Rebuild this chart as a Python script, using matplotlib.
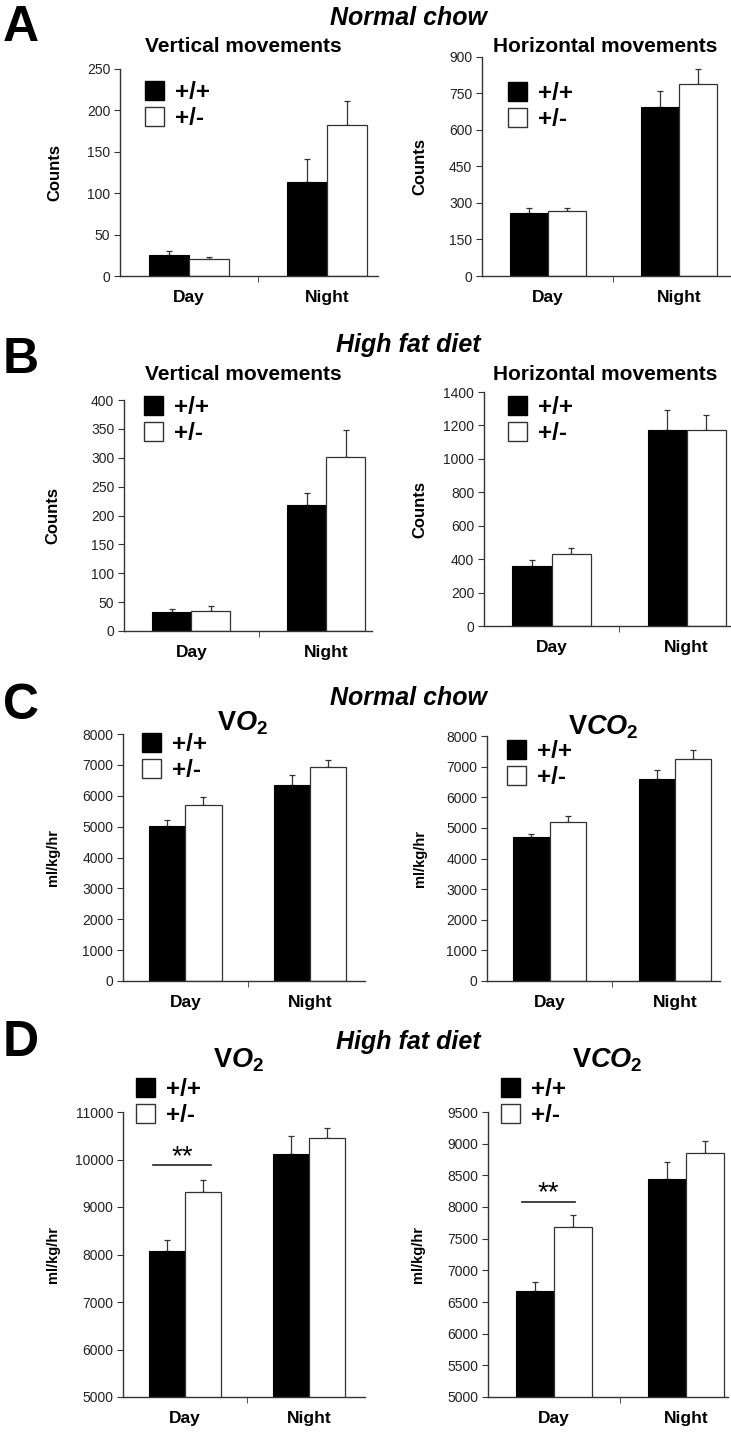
import matplotlib
matplotlib.use("Agg")
import matplotlib.pyplot as plt
from matplotlib.patches import Patch
import numpy as np

plt.rcParams['font.family'] = ['Liberation Sans', 'DejaVu Sans']
plt.rcParams['mathtext.fontset'] = 'custom'
plt.rcParams['mathtext.rm'] = 'Liberation Sans:bold'
plt.rcParams['mathtext.bf'] = 'Liberation Sans:bold'
plt.rcParams['mathtext.it'] = 'Liberation Sans:italic:bold'

periods = ["Day", "Night"]
genotypes = ["+/+", "+/-"]

# A: normal chow, activity
vert_chow_wt = [25, 114]
vert_chow_wt_err = [5, 27]
vert_chow_het = [21, 182]
vert_chow_het_err = [2, 29]
horiz_chow_wt = [257, 696]
horiz_chow_wt_err = [23, 66]
horiz_chow_het = [268, 788]
horiz_chow_het_err = [12, 62]

# B: high fat diet, activity
vert_hfd_wt = [33, 218]
vert_hfd_wt_err = [5, 21]
vert_hfd_het = [35, 302]
vert_hfd_het_err = [8, 46]
horiz_hfd_wt = [358, 1171]
horiz_hfd_wt_err = [36, 120]
horiz_hfd_het = [428, 1175]
horiz_hfd_het_err = [36, 90]

# C: normal chow, gas exchange
vo2_chow_wt = [5005, 6346]
vo2_chow_wt_err = [195, 313]
vo2_chow_het = [5686, 6919]
vo2_chow_het_err = [282, 249]
vco2_chow_wt = [4707, 6598]
vco2_chow_wt_err = [108, 304]
vco2_chow_het = [5196, 7250]
vco2_chow_het_err = [195, 283]

# D: high fat diet, gas exchange
vo2_hfd_wt = [8073, 10120]
vo2_hfd_wt_err = [225, 372]
vo2_hfd_het = [9325, 10450]
vo2_hfd_het_err = [253, 204]
vco2_hfd_wt = [6672, 8439]
vco2_hfd_wt_err = [148, 269]
vco2_hfd_het = [7679, 8850]
vco2_hfd_het_err = [190, 185]

W, H = 731, 1432
fig = plt.figure(figsize=(W / 100, H / 100), dpi=100)


def fx(px):
    return px / W


def fy(py):
    return 1 - py / H


def panel(box, xmax, ylim, ystep, wt, wt_err, het, het_err, ylabel, ylabel_x, legend_xy, sig=None):
    l, r, t, b = box
    ax = fig.add_axes([fx(l), fy(b), fx(r - l), (b - t) / H])
    x = np.arange(len(periods))
    w = 0.29
    ax.bar(x - w / 2, wt, w, color='black', edgecolor='black', linewidth=0.8, zorder=2)
    ax.bar(x + w / 2, het, w, color='white', edgecolor='#333333', linewidth=0.9, zorder=2)
    ax.errorbar(x - w / 2, wt, yerr=[np.zeros(len(wt)), wt_err], fmt='none',
                ecolor='#333333', elinewidth=0.9, capsize=2, capthick=0.9, zorder=1)
    ax.errorbar(x + w / 2, het, yerr=[np.zeros(len(het)), het_err], fmt='none',
                ecolor='#333333', elinewidth=0.9, capsize=2, capthick=0.9, zorder=1)
    ax.set_xlim(-0.5, xmax)
    ax.set_ylim(*ylim)
    ax.set_yticks(np.arange(ylim[0], ylim[1] + 1, ystep))
    ax.set_xticks(x)
    ax.set_xticklabels(periods, fontsize=12.5, fontweight='bold')
    ax.set_xticks([0.5], minor=True)
    ax.tick_params(axis='x', which='major', length=0, pad=10)
    ax.tick_params(axis='x', which='minor', length=4, color='#333333')
    ax.tick_params(axis='y', length=4, pad=3, labelsize=10, color='#333333', labelcolor='#222222')
    for s in ['top', 'right']:
        ax.spines[s].set_visible(False)
    for s in ['left', 'bottom']:
        ax.spines[s].set_color('#333333')
        ax.spines[s].set_linewidth(1)
    ax.set_ylabel(ylabel, fontsize=12 if ylabel == 'Counts' else 10.5, fontweight='bold')
    ax.yaxis.set_label_coords((ylabel_x - l) / (r - l), 0.5)
    handles = [Patch(facecolor='black', edgecolor='black'),
               Patch(facecolor='white', edgecolor='#333333')]
    ax.legend(handles, genotypes, loc='upper left',
              bbox_to_anchor=(fx(legend_xy[0]), fy(legend_xy[1])), bbox_transform=fig.transFigure,
              frameon=False, prop={'size': 17.5, 'weight': 'bold'}, handlelength=0.8,
              handleheight=0.8, handletextpad=0.45, labelspacing=0.12, borderpad=0, borderaxespad=0)
    if sig is not None:
        x0, x1, yline, ystar = sig
        ax.plot([x0, x1], [yline, yline], color='#222222', linewidth=1.2)
        ax.text((x0 + x1) / 2, ystar, '**', ha='center', va='baseline', fontsize=20)
    return ax


panel((120, 378, 69, 276), 1.37, (0, 250), 50, vert_chow_wt, vert_chow_wt_err,
      vert_chow_het, vert_chow_het_err, 'Counts', 62, (145, 81))
panel((482, 730, 57, 276), 1.39, (0, 900), 150, horiz_chow_wt, horiz_chow_wt_err,
      horiz_chow_het, horiz_chow_het_err, 'Counts', 427, (508, 82))
panel((124, 372, 400, 631), 1.34, (0, 400), 50, vert_hfd_wt, vert_hfd_wt_err,
      vert_hfd_het, vert_hfd_het_err, 'Counts', 60, (144, 396))
panel((484, 730, 392, 626), 1.32, (0, 1400), 200, horiz_hfd_wt, horiz_hfd_wt_err,
      horiz_hfd_het, horiz_hfd_het_err, 'Counts', 427, (508, 396))
panel((123, 365, 734, 981), 1.44, (0, 8000), 1000, vo2_chow_wt, vo2_chow_wt_err,
      vo2_chow_het, vo2_chow_het_err, 'ml/kg/hr', 60, (142, 733))
panel((487, 720, 736, 981), 1.36, (0, 8000), 1000, vco2_chow_wt, vco2_chow_wt_err,
      vco2_chow_het, vco2_chow_het_err, 'ml/kg/hr', 427, (507, 740))
panel((123, 365, 1112, 1397), 1.45, (5000, 11000), 1000, vo2_hfd_wt, vo2_hfd_wt_err,
      vo2_hfd_het, vo2_hfd_het_err, 'ml/kg/hr', 60, (136, 1078),
      sig=(-0.26, 0.21, 9880, 9910))
panel((488, 728, 1112, 1397), 1.32, (5000, 9500), 500, vco2_hfd_wt, vco2_hfd_wt_err,
      vco2_hfd_het, vco2_hfd_het_err, 'ml/kg/hr', 425, (501, 1078),
      sig=(-0.24, 0.16, 8085, 8108))

# panel letters
for letter, y in [('A', 28), ('B', 360), ('C', 706), ('D', 1043)]:
    fig.text(fx(3), fy(y), letter, fontsize=36, fontweight='bold', ha='left', va='center')

# diet headings
for label, y in [('Normal chow', 18), ('High fat diet', 345), ('Normal chow', 698), ('High fat diet', 1042)]:
    fig.text(fx(408), fy(y), label, fontsize=18, fontweight='bold', fontstyle='italic',
             ha='center', va='center')

# chart titles
for label, x, y in [('Vertical movements', 243, 47), ('Horizontal movements', 605, 47),
                    ('Vertical movements', 243, 375), ('Horizontal movements', 605, 375)]:
    fig.text(fx(x), fy(y), label, fontsize=15, fontweight='bold', ha='center', va='center')

for label, x, y in [(r'V$\mathit{O}_\mathrm{2}$', 242, 723), (r'V$\mathit{CO}_\mathrm{2}$', 603, 727),
                    (r'V$\mathit{O}_\mathrm{2}$', 238, 1060), (r'V$\mathit{CO}_\mathrm{2}$', 607, 1060)]:
    fig.text(fx(x), fy(y), label, fontsize=19.5, fontweight='bold', ha='center', va='center')

plt.savefig('out.png', dpi=100)
